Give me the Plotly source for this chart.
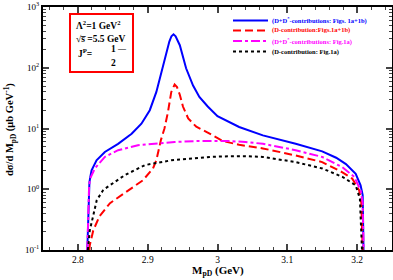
import plotly.graph_objects as go

# ---- data ----
blue_x = [2.8135, 2.8150, 2.8157, 2.8165, 2.8178, 2.8196, 2.8267, 2.8386, 2.8576, 2.877, 2.891, 2.903,
          2.9124, 2.922, 2.931, 2.934, 2.937, 2.940, 2.946, 2.955, 2.965, 2.974, 2.986, 3.000,
          3.017, 3.031, 3.065, 3.112, 3.150, 3.170, 3.184, 3.198, 3.205, 3.208, 3.2092]
blue_y = [0.1, 0.6, 1.1, 1.3, 1.6, 2.05, 3.0, 4.1, 5.6, 8.2, 12, 20,
          40, 112, 270, 330, 355, 330, 235, 98, 51, 33, 23, 16,
          12.8, 10.6, 7.7, 5.6, 4.2, 3.3, 2.6, 1.8, 1.16, 0.8, 0.1]

red_x = [2.8165, 2.817, 2.822, 2.831, 2.846, 2.8696, 2.881, 2.893, 2.9076, 2.9124, 2.919, 2.924,
         2.929, 2.9338, 2.9386, 2.942, 2.946, 2.9505, 2.958, 2.9696, 2.984, 3.008, 3.031,
         3.065, 3.112, 3.150, 3.179, 3.193, 3.203, 3.206, 3.208]
red_y = [0.1, 0.12, 0.21, 0.36, 0.59, 0.9, 1.1, 1.4, 2.2, 3.0, 6.5, 10,
         18.6, 40, 53, 48, 36, 23, 14.7, 10.7, 8.8, 6.2, 5.4,
         4.7, 3.6, 2.8, 1.9, 1.5, 0.96, 0.6, 0.1]

mag_x = [2.8135, 2.8150, 2.8160, 2.8175, 2.8243, 2.8386, 2.8576, 2.886, 2.919, 2.9386, 2.97, 3.0,
         3.017, 3.04, 3.065, 3.112, 3.15, 3.179, 3.196, 3.205, 3.208, 3.2092]
mag_y = [0.1, 0.6, 1.1, 1.5, 2.2, 3.4, 4.4, 5.3, 5.8, 6.0, 6.2, 6.3,
         6.2, 6.0, 5.6, 4.4, 3.4, 2.3, 1.6, 0.96, 0.6, 0.1]

blk_x = [2.8143, 2.8147, 2.817, 2.822, 2.827, 2.836, 2.8386, 2.867, 2.896, 2.934, 2.96, 2.99, 3.017,
         3.04, 3.065, 3.112, 3.15, 3.179, 3.198, 3.204, 3.207]
blk_y = [0.1, 0.12, 0.21, 0.37, 0.66, 0.96, 1.02, 1.7, 2.5, 3.0, 3.2, 3.4, 3.5,
         3.5, 3.4, 2.8, 2.2, 1.6, 1.16, 0.7, 0.1]

legend_names = ["(D+D<sup>*</sup>-contributions: Figs. 1a+1b)",
                "(D-contribution:Figs.1a+1b)",
                "(D+D<sup>*</sup>-contributions: Fig.1a)",
                "(D-contribution: Fig.1a)"]
x_ticks = [2.8, 2.9, 3.0, 3.1, 3.2]
x_ticklabels = ["2.8", "2.9", "3", "3.1", "3.2"]
y_ticks = [0.1, 1, 10, 100, 1000]
y_ticklabels = ["10<sup>-1</sup>", "10<sup>0</sup>", "10<sup>1</sup>", "10<sup>2</sup>", "10<sup>3</sup>"]

FONT = "Liberation Serif"
colors = ["#0000ff", "#ff0000", "#ff00ff", "#000000"]
dashes = ["solid", "8px,4px", "dashdot", "dot"]

fig = go.Figure()
series = [(blue_x, blue_y), (red_x, red_y), (mag_x, mag_y), (blk_x, blk_y)]
for (xs, ys), c, d, n in zip(series, colors, dashes, legend_names):
    fig.add_trace(go.Scatter(x=xs, y=ys, mode="lines", name=n,
                             line=dict(color=c, width=2, dash=d), showlegend=False))

# minor ticks for log axis
minor_y = [m * 10 ** e for e in range(-1, 3) for m in range(2, 10)]

W, H = 393, 280
L, R, T, B = 43, 392, 7, 250
def px(x): return (x - L) / (R - L)
def py(y): return (B - y) / (B - T)

shapes = []
annos = []
# manual legend
rows = [20.5, 30.5, 41, 51.5]
for r, c, d, n in zip(rows, colors, dashes, legend_names):
    shapes.append(dict(type="line", xref="paper", yref="paper", x0=px(233), x1=px(268),
                       y0=py(r), y1=py(r), line=dict(color=c, width=2, dash=d)))
    annos.append(dict(xref="paper", yref="paper", x=px(270), y=py(r), xanchor="left", yanchor="middle",
                      text="<b>" + n + "</b>", showarrow=False,
                      font=dict(family=FONT, size=6.5, color=c)))

# info box
shapes.append(dict(type="rect", xref="paper", yref="paper", x0=px(70), x1=px(133), y0=py(72), y1=py(14),
                   line=dict(color="#ff0000", width=2)))
annos += [
    dict(xref="paper", yref="paper", x=px(74), y=py(25), xanchor="left", yanchor="middle", showarrow=False,
         text="<b>Λ<sup>2</sup>=1 GeV<sup>2</sup></b>", font=dict(family=FONT, size=9.5, color="black")),
    dict(xref="paper", yref="paper", x=px(74), y=py(39), xanchor="left", yanchor="middle", showarrow=False,
         text="<b>√s̅ =5.5 GeV</b>", font=dict(family=FONT, size=9.5, color="black")),
    dict(xref="paper", yref="paper", x=px(76), y=py(53), xanchor="left", yanchor="middle", showarrow=False,
         text="<b>J<sup>P</sup>=</b>", font=dict(family=FONT, size=9.5, color="black")),
    dict(xref="paper", yref="paper", x=px(113), y=py(49), xanchor="center", yanchor="middle", showarrow=False,
         text="<b>1</b>", font=dict(family=FONT, size=9.5, color="black")),
    dict(xref="paper", yref="paper", x=px(122), y=py(48), xanchor="center", yanchor="middle", showarrow=False,
         text="<b>—</b>", font=dict(family=FONT, size=8, color="black")),
    dict(xref="paper", yref="paper", x=px(113), y=py(63), xanchor="center", yanchor="middle", showarrow=False,
         text="<b>2</b>", font=dict(family=FONT, size=9.5, color="black")),
    # axis titles
    dict(xref="paper", yref="paper", x=px(217.5), y=py(271), xanchor="center", yanchor="middle", showarrow=False,
         text="<b>M<sub>pD</sub> (GeV)</b>", font=dict(family=FONT, size=11, color="black")),
    dict(xref="paper", yref="paper", x=px(10), y=py(130), xanchor="center", yanchor="middle", showarrow=False,
         textangle=-90, text="<b>dσ/d M<sub>pD</sub> (μb GeV<sup>-1</sup>)</b>",
         font=dict(family=FONT, size=10.5, color="black")),
]

fig.update_layout(
    width=W, height=H,
    margin=dict(l=L, r=W - R, t=T, b=H - B, autoexpand=False),
    paper_bgcolor="white", plot_bgcolor="white",
    font=dict(family=FONT, color="black"),
    shapes=shapes, annotations=annos, showlegend=False,
    xaxis=dict(range=[2.75, 3.25], tickvals=x_ticks, ticktext=x_ticklabels, automargin=False,
               ticks="inside", ticklen=6, tickwidth=1.5, mirror="allticks",
               showline=True, linewidth=2, linecolor="black", showgrid=False, zeroline=False,
               tickfont=dict(family=FONT, size=9.5),
               minor=dict(ticks="inside", ticklen=3, tickwidth=1, dtick=0.02, tick0=2.8, showgrid=False)),
    yaxis=dict(type="log", range=[-1, 3], tickvals=y_ticks, ticktext=y_ticklabels, automargin=False,
               ticks="inside", ticklen=6, tickwidth=1.5, mirror="allticks",
               showline=True, linewidth=2, linecolor="black", showgrid=False, zeroline=False,
               tickfont=dict(family=FONT, size=9),
               minor=dict(ticks="inside", ticklen=3, tickwidth=1, tickvals=minor_y, showgrid=False)),
)

fig.write_html("out.html", config={"displayModeBar": False},
               post_script="document.body.style.margin='0';document.body.style.overflow='hidden';")
